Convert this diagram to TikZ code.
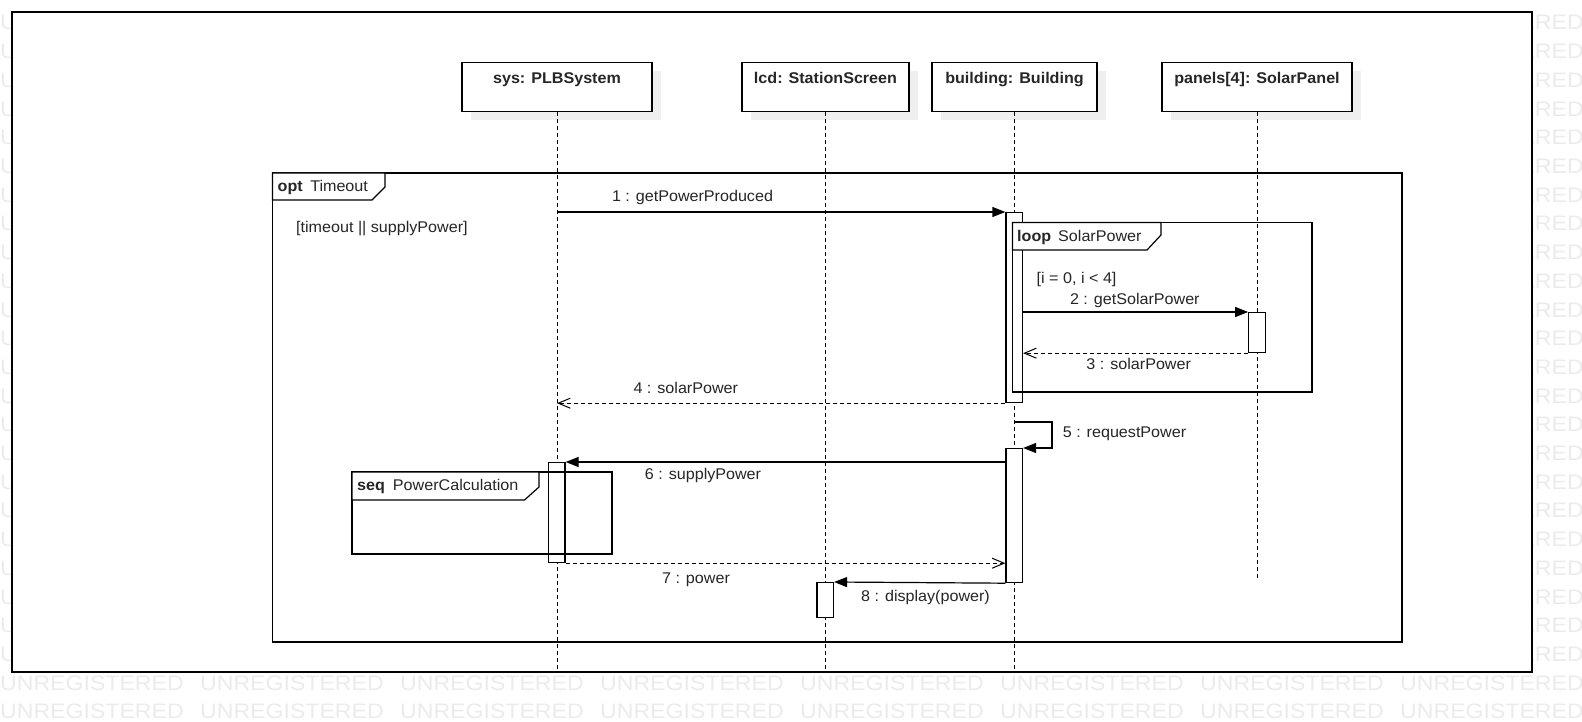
\documentclass[tikz,border=0pt]{standalone}
\usepackage{fontspec}
\setmainfont{Liberation Sans}[FakeStretch=1.04]
\newfontfamily\wmfont{Liberation Sans}[FakeStretch=1.1]
\usetikzlibrary{arrows.meta,shadows}
\definecolor{wmgray}{HTML}{EBEBEB}
\definecolor{shade}{HTML}{EFEFEF}
\definecolor{ink}{HTML}{262626}

\begin{document}
\begin{tikzpicture}[x=1pt,y=-1pt,
  lbl/.style={font=\fontsize{15.5}{18}\selectfont, text=ink, inner sep=0pt},
  head/.style={draw=black, line width=1.2pt, fill=white,
    font=\fontsize{15.5}{18}\selectfont\bfseries, text=ink, inner sep=0pt,
    minimum width=#1, text height=21pt, text depth=28pt, anchor=north,
    drop shadow={shadow xshift=8.5pt, shadow yshift=-8.5pt, fill=shade, opacity=1}},
  lifeline/.style={draw=black, line width=1pt, dash pattern=on 4pt off 3pt},
  bar/.style={draw=black, line width=1.2pt, fill=white, inner sep=0pt,
    minimum width=16.5pt, minimum height=#1, anchor=north},
  frameline/.style={draw=black, line width=1.2pt},
  call/.style={draw=black, line width=1.2pt, -{Triangle[length=13pt,width=10pt]}},
  reply/.style={draw=black, line width=1pt, dash pattern=on 4pt off 3pt,
    -{Straight Barb[length=12pt,width=10pt]}},
  wm/.style={anchor=base west, inner sep=0pt, text=wmgray,
    font=\wmfont\fontsize{21}{21}\selectfont},
]
\useasboundingbox (0,0) rectangle (1582,722);

% background watermark: the edge columns beside the sheet, full rows below it
\foreach \j in {0,...,22}{
  \foreach \k in {0,7}{
    \node[wm] (wm-\j-\k) at ({200*\k},{30+28.7*\j}) {UNREGISTERED};
  }
}
\foreach \j in {23,24}{
  \foreach \k in {0,...,7}{
    \node[wm] (wm-\j-\k) at ({200*\k},{30+28.7*\j}) {UNREGISTERED};
  }
}

% diagram sheet
\draw[line width=1.5pt, draw=black, fill=white] (12,12) rectangle (1532,672);

% lifeline heads
\node[head=190pt] (sys) at (557,62)    {sys: PLBSystem};
\node[head=167pt] (lcd) at (825.5,62)  {lcd: StationScreen};
\node[head=165pt] (bld) at (1014.5,62) {building: Building};
\node[head=190pt] (pan) at (1257,62)   {panels[4]: SolarPanel};

% lifelines
\coordinate (sysEnd) at (557,672);
\coordinate (lcdEnd) at (825.5,672);
\coordinate (bldEnd) at (1014.5,672);
\coordinate (panEnd) at (1257,579);
\draw[lifeline] (sys.south) -- (sysEnd);
\draw[lifeline] (lcd.south) -- (lcdEnd);
\draw[lifeline] (bld.south) -- (bldEnd);
\draw[lifeline] (pan.south) -- (panEnd);

% activation bars
\node[bar=190pt] (b1) at (1014.25,212) {};
\node[bar=40pt]  (p1) at (1257,312) {};
\node[bar=134pt] (b2) at (1014.25,448) {};
\node[bar=100pt] (s1) at (556.75,462) {};
\node[bar=35pt]  (l1) at (825.25,582) {};

% combined fragments
\draw[frameline] (272.5,173) rectangle (1402,642);
\draw[frameline, fill=white] (272.5,173) -- (385,173) -- (385,187) -- (372,200) -- (272.5,200) -- cycle;
\draw[frameline] (1012.5,222.5) rectangle (1312,392);
\draw[frameline, fill=white] (1012.5,222.5) -- (1161,222.5) -- (1161,235) -- (1147,250) -- (1012.5,250) -- cycle;
\draw[frameline] (352,472) rectangle (612,554);
\draw[frameline, fill=white] (352,472) -- (539,472) -- (539,487) -- (524.5,500) -- (352,500) -- cycle;

\node[lbl, anchor=base west] (optl)  at (277.5,191.5) {\textbf{opt}\hspace{7.5pt}Timeout};
\node[lbl, anchor=base west] (loopl) at (1017,241)    {\textbf{loop}\hspace{7pt}SolarPower};
\node[lbl, anchor=base west] (seql)  at (357,490.7)   {\textbf{seq}\hspace{8pt}PowerCalculation};
\node[lbl, anchor=base west] (g1) at (296,233)  {[timeout || supplyPower]};
\node[lbl, anchor=base west] (g2) at (1036.5,283) {[i = 0, i < 4]};

% messages
\draw[call]  (sys.south |- b1.north west) -- (b1.north west);
\draw[call]  (b1.east |- p1.north west) -- (p1.north west);
\draw[reply] (p1.south west) -- (b1.east |- p1.south west);
\draw[reply] (b1.south west) -- (sys.south |- b1.south west);
\coordinate (m5) at (1052,422);
\draw[call]  (bld.south |- m5) -- (m5) |- (b2.north east);
\draw[call]  (b2.west |- s1.north) -- (s1.north east);
\draw[reply] (s1.south east) -- (b2.west |- s1.south east);
\draw[call]  (b2.south west) -- (l1.north east);

% message labels
\node[lbl, anchor=base] (t1) at (692.5,202)   {1 : getPowerProduced};
\node[lbl, anchor=base] (t2) at (1134.8,304.3) {2 : getSolarPower};
\node[lbl, anchor=base] (t3) at (1138.7,369)  {3 : solarPower};
\node[lbl, anchor=base] (t4) at (685.8,393.3)  {4 : solarPower};
\node[lbl, anchor=base] (t5) at (1124.5,437.5) {5 : requestPower};
\node[lbl, anchor=base] (t6) at (703,479.3)    {6 : supplyPower};
\node[lbl, anchor=base] (t7) at (696,583.3)    {7 : power};
\node[lbl, anchor=base] (t8) at (925.5,601.7)  {8 : display(power)};
\end{tikzpicture}
\end{document}
